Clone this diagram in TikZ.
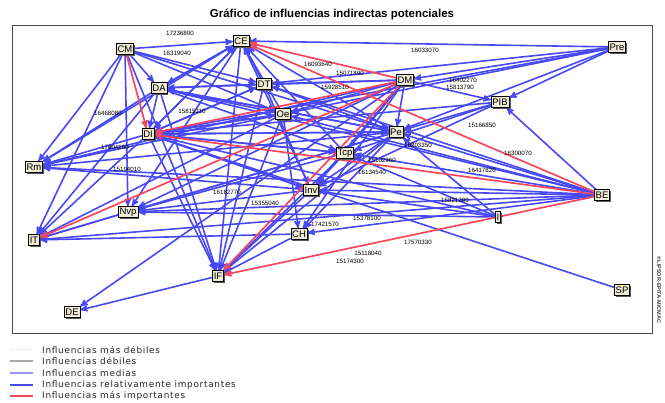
\documentclass[tikz,border=0pt]{standalone}
\usepackage{fontspec}
\setmainfont{Liberation Sans}
\newfontfamily\leyenda[LetterSpace=8]{DejaVu Sans}
\usepackage{tikz}
\usetikzlibrary{arrows,shadows,backgrounds}
\definecolor{azul}{RGB}{72,72,245}
\definecolor{azulclaro}{RGB}{150,150,250}
\definecolor{rojo}{RGB}{245,72,92}
\definecolor{caja}{RGB}{238,236,212}

\begin{document}
\begin{tikzpicture}[x=1pt,y=-1pt,>=stealth',
    factor/.style={rectangle, draw, fill=caja, inner sep=1.3pt,
                   minimum height=11pt, font=\fontsize{9.5}{10}\selectfont,
                   drop shadow={shadow xshift=1.6pt, shadow yshift=-1.6pt,
                                fill=black!65, opacity=1}},
    inf/.style={->, azul, line width=1.6pt},
    fuerte/.style={->, rojo, line width=1.7pt},
    cifra/.style={font=\fontsize{6.2}{6.5}\selectfont, inner sep=0.5pt},
    ley/.style={anchor=west, text=black!85, inner sep=0pt,
                font=\leyenda\fontsize{8.9}{9}\selectfont}]

    \useasboundingbox (0,0) rectangle (665,403);

    % title and frame
    \node[font=\bfseries\fontsize{11.5}{12}\selectfont] (titulo) at (332,14)
        {Gráfico de influencias indirectas potenciales};
    \draw[black!70, line width=0.9pt] (12,25) rectangle (652,333);
    \node[rotate=-90, font=\bfseries\fontsize{5.5}{6}\selectfont, text=black!75] (micmac)
        at (659,290) {©LIPSOR-EPITA-MICMAC};

    % variables
    \node[factor] (CM) at (125,49) {CM};
    \node[factor] (CE) at (241,41) {CE};
    \node[factor] (DA) at (159,88) {DA};
    \node[factor] (DT) at (264,84) {DT};
    \node[factor] (Oe) at (283,114) {Oe};
    \node[factor] (DI) at (148,134) {DI};
    \node[factor] (Rm) at (34,167) {Rm};
    \node[factor] (Pre) at (617,47) {Pre};
    \node[factor] (DM) at (405,80) {DM};
    \node[factor] (PIB) at (500,102) {PIB};
    \node[factor] (Pe) at (396,132) {Pe};
    \node[factor] (Tcp) at (345,153) {Tcp};
    \node[factor] (Inv) at (311,190) {Inv};
    \node[factor] (CH) at (299,234) {CH};
    \node[factor] (BE) at (602,195) {BE};
    \node[factor] (I) at (498,217) {I};
    \node[factor] (SP) at (622,290) {SP};
    \node[factor] (Nvp) at (128,212) {Nvp};
    \node[factor] (IT) at (34,240) {IT};
    \node[factor] (IF) at (218,276) {IF};
    \node[factor] (DE) at (72,312) {DE};

    \begin{pgfonlayer}{background}
    % influencias relativamente importantes
    \path[inf]
    (CM) edge (CE) edge (DA) edge (DT) edge (Oe) edge (Pe)
         edge (Rm) edge (IT) edge (Nvp) edge (IF)
    (CE) edge (Rm) edge (DI) edge (IF) edge (DA) edge (Nvp)
    (DA) edge (CE) edge (DT) edge (Oe) edge (Pe) edge (DI)
         edge (Rm) edge (IT) edge (IF) edge (Tcp)
    (DI) edge (CE) edge (DT) edge (Oe) edge (Pe) edge (Rm)
         edge (IT) edge (IF) edge (Inv) edge (Tcp)
    (DT) edge (CE) edge (DI) edge (Pe) edge (Inv) edge (IF)
    (Oe) edge (CE) edge (DI) edge (IF) edge (Rm) edge (IT) edge (CH)
    (DM) edge (DT) edge (Oe) edge (DA) edge (Pe) edge (PIB) edge (Rm)
         edge (Nvp) edge (Inv) edge (CH) edge (DE) edge (Tcp)
    (Pre) edge (CE) edge (DM) edge (PIB) edge (Pe) edge (Oe)
          edge (DT) edge (DI)
    (PIB) edge (Pe) edge (Tcp) edge (Inv) edge (DI)
    (Pe) edge (CE) edge (DA) edge (DI) edge (Rm) edge (IT)
         edge (Nvp) edge (IF) edge (Inv) edge (CH)
    (Tcp) edge (CE) edge (DI) edge (Nvp) edge (IF) edge (Inv)
    (Inv) edge (CE) edge (DI) edge (Rm) edge (Nvp) edge (IF)
    (CH) edge (IF) edge (IT)
    (BE) edge (PIB) edge (Pe) edge (Oe) edge (DT) edge (Tcp) edge (Inv)
         edge (Nvp) edge (IT) edge (CH) edge (DA) edge (Rm)
    (I) edge (Pe) edge (Tcp) edge (Inv) edge (Nvp) edge (DI)
    (SP) edge (DI)
    (IF) edge (DE)
    (Nvp) edge (IT);

    % influencias mas importantes
    \path[fuerte]
    (CM) edge (DI)
    (DM) edge (CE) edge (DI) edge (IT) edge (IF)
    (BE) edge (CE) edge (DI) edge (IF);
    \end{pgfonlayer}

    % valores
    \node[cifra] (c1) at (180,33) {17236800};
    \node[cifra] (c2) at (425,50) {16033070};
    \node[cifra] (c3) at (177,53) {16319040};
    \node[cifra] (c4) at (350,73) {15071890};
    \node[cifra] (c5) at (318,64) {16093640};
    \node[cifra] (c6) at (335,87) {15928510};
    \node[cifra] (c7) at (463,80) {16402270};
    \node[cifra] (c8) at (460,87) {15813790};
    \node[cifra] (c9) at (482,125) {15166850};
    \node[cifra] (c10) at (518,153) {16300070};
    \node[cifra] (c11) at (482,170) {16417820};
    \node[cifra] (c12) at (418,145) {16203350};
    \node[cifra] (c13) at (382,160) {15102960};
    \node[cifra] (c14) at (372,172) {16134540};
    \node[cifra] (c15) at (455,200) {15821200};
    \node[cifra] (c16) at (367,218) {15378100};
    \node[cifra] (c17) at (325,224) {17421570};
    \node[cifra] (c18) at (418,242) {17570330};
    \node[cifra] (c19) at (368,253) {15118040};
    \node[cifra] (c20) at (350,261) {15174300};
    \node[cifra] (c21) at (227,192) {16182770};
    \node[cifra] (c22) at (265,203) {15355040};
    \node[cifra] (c23) at (127,169) {15194010};
    \node[cifra] (c24) at (108,113) {16468080};
    \node[cifra] (c25) at (115,147) {17604100};
    \node[cifra] (c26) at (192,111) {15815110};

    % leyenda
    \draw[gray!40, dotted, line width=1pt] (10,350) -- (33,350);
    \draw[gray!70, line width=1.2pt] (10,361) -- (33,361);
    \draw[azulclaro, line width=1.3pt] (10,373) -- (33,373);
    \draw[azul, line width=1.8pt] (10,385) -- (33,385);
    \draw[rojo, line width=1.8pt] (10,396) -- (33,396);
    \node[ley] (l1) at (42,350) {Influencias más débiles};
    \node[ley] (l2) at (42,361) {Influencias débiles};
    \node[ley] (l3) at (42,373) {Influencias medias};
    \node[ley] (l4) at (42,385) {Influencias relativamente importantes};
    \node[ley] (l5) at (42,396) {Influencias más importantes};

\end{tikzpicture}
\end{document}
